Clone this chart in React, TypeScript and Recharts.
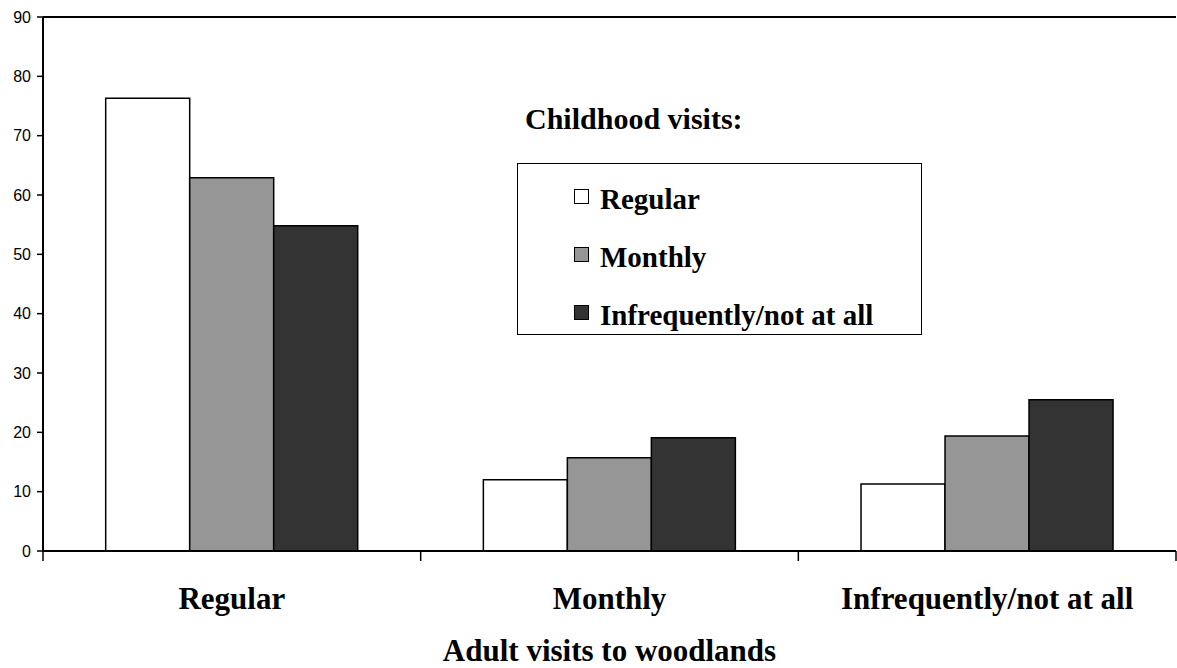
import React from 'react';
import { BarChart, Bar, XAxis, YAxis, ReferenceLine, Legend } from 'recharts';

const categories = ['Regular', 'Monthly', 'Infrequently/not at all'];
const regularValues = [76.3, 12.0, 11.3];
const monthlyValues = [62.9, 15.7, 19.4];
const infrequentValues = [54.8, 19.1, 25.5];
const seriesKeys = ['regular', 'monthly', 'infrequent'];
const seriesNames = ['Regular', 'Monthly', 'Infrequently/not at all'];
const seriesColors = ['#ffffff', '#969696', '#333333'];
const yTicks = [0, 10, 20, 30, 40, 50, 60, 70, 80, 90];
const legendTitle = 'Childhood visits:';
const xTitle = 'Adult visits to woodlands';

const data = categories.map((c, i) => ({
  category: c,
  regular: regularValues[i],
  monthly: monthlyValues[i],
  infrequent: infrequentValues[i],
}));

const serif = '"Liberation Serif", "Times New Roman", serif';
const sans = '"Liberation Sans", Arial, sans-serif';
const X_TICK_MARGIN = 36;
const X_TICK_LEN = 10;

const CategoryTick = (props: any) => {
  const { x, y, payload, index, visibleTicksCount } = props;
  const half = payload && typeof payload.offset === 'number' ? payload.offset : 0;
  const axisY = y - X_TICK_MARGIN;
  const isLast = index === visibleTicksCount - 1;
  return (
    <g>
      <line x1={x - half} x2={x - half} y1={axisY} y2={axisY + X_TICK_LEN} stroke="#000" strokeWidth={1.5} />
      {isLast && <line x1={x + half} x2={x + half} y1={axisY} y2={axisY + X_TICK_LEN} stroke="#000" strokeWidth={1.5} />}
      <text x={x} y={y} dy="0.71em" textAnchor="middle" fontSize={31} fontWeight="bold" fontFamily={serif} fill="#000">
        {payload.value}
      </text>
    </g>
  );
};

const renderLegend = () => (
  <div style={{ position: 'relative', width: 405, height: 240, fontFamily: serif, fontWeight: 'bold', color: '#000' }}>
    <div style={{ position: 'absolute', left: 8, top: 4, fontSize: 30, lineHeight: '30px', whiteSpace: 'nowrap' }}>{legendTitle}</div>
    <div style={{ position: 'absolute', left: 0, top: 63, width: 405, height: 172, border: '1.5px solid #000', boxSizing: 'border-box', background: '#fff' }}>
      {seriesNames.map((name, i) => (
        <div key={name} style={{ position: 'absolute', left: 56, top: 20 + 58 * i, height: 30, display: 'flex', alignItems: 'center', whiteSpace: 'nowrap' }}>
          <span style={{ display: 'inline-block', width: 15, height: 15, boxSizing: 'border-box', border: '1.5px solid #000', background: seriesColors[i], transform: 'translateY(-3px)' }} />
          <span style={{ marginLeft: 11, fontSize: 29, lineHeight: '30px' }}>{name}</span>
        </div>
      ))}
    </div>
  </div>
);

export default function App() {
  return (
    <div style={{ position: 'absolute', left: 0, top: 0, width: 1177, height: 668, background: '#fff' }}>
      <BarChart
        width={1177}
        height={668}
        data={data}
        margin={{ top: 17, right: 1, left: 0, bottom: 0 }}
        barCategoryGap="16.6%"
        barGap={0}
      >
        <XAxis
          dataKey="category"
          height={117}
          interval={0}
          axisLine={{ stroke: '#000', strokeWidth: 2 }}
          tickLine={false}
          tickSize={0}
          tickMargin={X_TICK_MARGIN}
          tick={<CategoryTick />}
          label={{ value: xTitle, position: 'insideBottom', offset: 7, style: { fontSize: 31, fontWeight: 'bold', fontFamily: serif, fill: '#000' } }}
        />
        <YAxis
          domain={[0, 90]}
          ticks={yTicks}
          width={43}
          tickSize={6}
          tickMargin={6}
          axisLine={{ stroke: '#000', strokeWidth: 2 }}
          tickLine={{ stroke: '#000', strokeWidth: 1.5 }}
          tick={{ fontSize: 16, fontFamily: sans, fill: '#000' }}
        />
        <YAxis
          yAxisId="r"
          orientation="right"
          domain={[0, 90]}
          width={0}
          tick={false}
          tickLine={false}
          axisLine={{ stroke: '#808080', strokeWidth: 1.5 }}
        />
        <ReferenceLine y={90} stroke="#000" strokeWidth={2} />
        <Legend
          layout="vertical"
          align="center"
          verticalAlign="middle"
          content={renderLegend}
          wrapperStyle={{ left: 517, top: 100, width: 405, height: 240 }}
        />
        {seriesKeys.map((k, i) => (
          <Bar
            key={k}
            dataKey={k}
            name={seriesNames[i]}
            fill={seriesColors[i]}
            stroke="#000"
            strokeWidth={1.5}
            isAnimationActive={false}
          />
        ))}
      </BarChart>
    </div>
  );
}
